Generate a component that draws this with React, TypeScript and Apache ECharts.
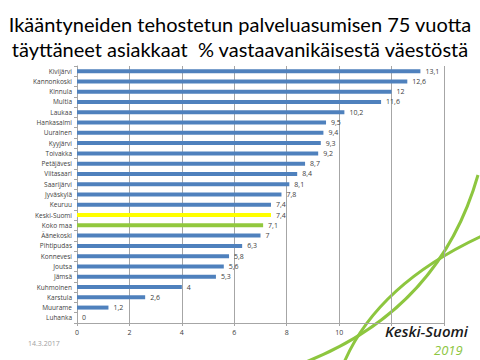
import React, { useEffect, useRef } from "react";
import * as echarts from "echarts";

const categories = [
  "Kivijärvi", "Kannonkoski", "Kinnula", "Multia", "Laukaa", "Hankasalmi", "Uurainen",
  "Kyyjärvi", "Toivakka", "Petäjävesi", "Viitasaari", "Saarijärvi", "Jyväskylä", "Keuruu",
  "Keski-Suomi", "Koko maa", "Äänekoski", "Pihtipudas", "Konnevesi", "Joutsa", "Jämsä",
  "Kuhmoinen", "Karstula", "Muurame", "Luhanka",
];
const values = [
  13.1, 12.6, 12, 11.6, 10.2, 9.5, 9.4, 9.3, 9.2, 8.7, 8.4, 8.1, 7.8, 7.4,
  7.4, 7.1, 7, 6.3, 5.8, 5.6, 5.3, 4, 2.6, 1.2, 0,
];
const highlightColors: Record<string, string> = {
  "Keski-Suomi": "#FFFF00",
  "Koko maa": "#92C83E",
};
const xTicks = [0, 2, 4, 6, 8, 10];
const titleLines = [
  "Ikääntyneiden tehostetun palveluasumisen 75 vuotta",
  "täyttäneet asiakkaat  % vastaavanikäisestä väestöstä",
];
const dateText = "14.3.2017";

export default function App() {
  const ref = useRef<HTMLDivElement>(null);
  useEffect(() => {
    const chart = echarts.init(ref.current!, undefined, { renderer: "svg" });
    const green = "#8DC63F";
    chart.setOption({
      animation: false,
      backgroundColor: "#fff",
      title: {
        text: titleLines.join("\n"),
        left: "center",
        top: 6,
        textStyle: {
          fontFamily: "Lato",
          fontWeight: "normal",
          fontSize: 20,
          lineHeight: 25,
          color: "#000",
        },
      },
      grid: { left: 77, right: 36, top: 66, bottom: 37, containLabel: false },
      xAxis: {
        type: "value",
        min: 0,
        max: 14,
        interval: 2,
        axisLine: { show: true, lineStyle: { color: "#a6a6a6" } },
        axisTick: { show: true, length: 3, lineStyle: { color: "#a6a6a6" } },
        splitLine: { show: true, lineStyle: { color: "#a6a6a6" } },
        axisLabel: {
          fontSize: 7,
          color: "#404040",
          fontFamily: "Open Sans",
          margin: 6,
          formatter: (v: number) => (xTicks.includes(v) ? String(v) : ""),
        },
      },
      yAxis: {
        type: "category",
        data: categories,
        inverse: true,
        axisLine: { show: true, lineStyle: { color: "#a6a6a6" } },
        axisTick: { show: true, length: 3, lineStyle: { color: "#a6a6a6" } },
        axisLabel: { fontSize: 6.5, color: "#404040", fontFamily: "Open Sans", margin: 5 },
      },
      series: [
        {
          type: "bar",
          barWidth: 4,
          data: values.map((v, i) => ({
            value: v,
            itemStyle: { color: highlightColors[categories[i]] || "#4F81BD" },
          })),
          label: {
            show: true,
            position: "right",
            distance: 5,
            fontSize: 7,
            color: "#404040",
            fontFamily: "Open Sans",
            formatter: (p: any) => String(p.value).replace(".", ","),
          },
        },
      ],
      graphic: [
        {
          type: "bezierCurve",
          silent: true,
          shape: { x1: 343, y1: 365, cpx1: 365, cpy1: 312, cpx2: 411, cpy2: 269, x2: 482, y2: 236 },
          style: { stroke: green, lineWidth: 3, fill: null },
        },
        {
          type: "bezierCurve",
          silent: true,
          shape: { x1: 298, y1: 365, cpx1: 392, cpy1: 330, cpx2: 452, cpy2: 266, x2: 478, y2: 175 },
          style: { stroke: green, lineWidth: 3, fill: null },
        },
        {
          type: "text",
          left: 385,
          top: 323,
          style: {
            text: "Keski-Suomi",
            font: "italic 600 15px 'Open Sans'",
            lineHeight: 15,
            fill: "#1a1a1a",
          },
        },
        {
          type: "text",
          left: 434,
          top: 343,
          style: {
            text: "2019",
            font: "italic 13px 'Open Sans'",
            lineHeight: 13,
            fill: green,
          },
        },
        {
          type: "text",
          left: 28,
          top: 340,
          style: { text: dateText, font: "7px 'Open Sans'", fill: "#a0a0a0" },
        },
      ],
    });
    return () => chart.dispose();
  }, []);
  return <div ref={ref} style={{ width: 480, height: 360, position: "absolute", left: 0, top: 0 }} />;
}
